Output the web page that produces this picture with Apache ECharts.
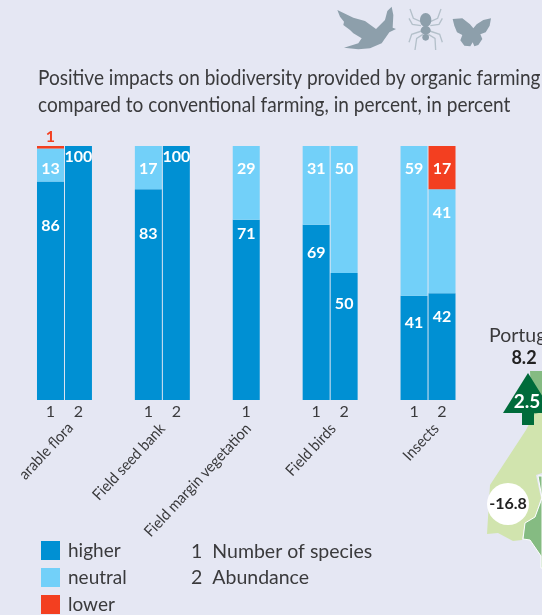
<!DOCTYPE html>
<html><head><meta charset="utf-8">
<style>html,body{margin:0;padding:0;background:#e5e7f3;overflow:hidden}#c{width:542px;height:615px}</style>
<script src="https://cdn.jsdelivr.net/npm/echarts@6/dist/echarts.min.js"></script>
</head><body><div id="c"></div>
<script>
const FONT = 'Lato,"Liberation Sans",sans-serif';
// data (one entry per bar)
const barTicks = ['1','2','1','2','1','1','2','1','2'];
const higher  = [86,100,83,100,71,69,50,41,42];
const neutral = [13,null,17,null,29,31,50,59,41];
const lower   = [1,null,null,null,null,null,null,null,17];
const groups  = ['arable flora','Field seed bank','Field margin vegetation','Field birds','Insects'];
const titleLines = ['Positive impacts on biodiversity provided by organic farming','compared to conventional farming, in percent, in percent'];
const notes = ['1  Number of species','2  Abundance'];
// layout only
const barSlots = [0,2,7,9,14,19,21,26,28];
const SLOTS = 29;
const higherLabelDist  = [36,3,37,3,6,20,23,19,16];
const neutralLabelDist = [12,0,15,0,15,15,15,15,16];
const groupAnchor = [[1,6,425],[8,0,426],[14,2,426],[20,3,426],[27,8,426]];

const ticks = Array.from({length:SLOTS},()=>'' );
barSlots.forEach((s,i)=>ticks[s]=barTicks[i]);
const col = (vals,extra)=>{const a=Array(SLOTS).fill(null);barSlots.forEach((s,i)=>{if(vals[i]!=null)a[s]=extra?extra(vals[i],i):vals[i];});return a;};
const lab = {show:true,color:'#fff',fontFamily:FONT,fontWeight:'bold',fontSize:16,position:'insideTop'};

const chart = echarts.init(document.getElementById('c'),null,{renderer:'canvas'});
const C = {hi:'#0090d3',ne:'#72d0f9',lo:'#f33f20',bg:'#e5e7f3',tx:'#3a3a3c'};
chart.setOption({
  backgroundColor:C.bg,animation:false,
  legend:{left:41,top:541,padding:0,orient:'vertical',itemWidth:19,itemHeight:19,itemGap:8,icon:'rect',selectedMode:false,
    textStyle:{fontFamily:FONT,fontSize:19,lineHeight:19,color:C.tx,padding:[0,0,0,3]},data:['higher','neutral','lower']},
  grid:{left:43.5,width:405.5,top:146,bottom:215,containLabel:false},
  xAxis:{type:'category',data:ticks,axisLine:{show:false},axisTick:{show:false},
    axisLabel:{interval:0,color:C.tx,fontFamily:FONT,fontSize:16,margin:4}},
  yAxis:{type:'value',min:0,max:100,show:false},
  series:[
    {name:'higher',type:'bar',stack:'s',clip:false,barWidth:27,itemStyle:{color:C.hi},
     data:col(higher,(v,i)=>({value:v,label:{distance:higherLabelDist[i]}})),label:lab},
    {name:'neutral',type:'bar',stack:'s',clip:false,barWidth:27,itemStyle:{color:C.ne},
     data:col(neutral,(v,i)=>({value:v,label:{distance:neutralLabelDist[i]}})),label:lab},
    {name:'lower',type:'bar',stack:'s',clip:false,barWidth:27,itemStyle:{color:C.lo},
     data:col(lower,(v,i)=>v<5?{value:v,label:{position:'top',color:C.lo,distance:1}}:{value:v,label:{distance:15}}),label:lab}
  ]
});

const groupLabels = groups.map((g,i)=>({type:'text',x:chart.convertToPixel({xAxisIndex:0},groupAnchor[i][0])+groupAnchor[i][1],y:groupAnchor[i][2],rotation:47*Math.PI/180,scaleX:0.93,
  style:{text:g,textAlign:'right',textVerticalAlign:'middle',font:'15.5px '+FONT,fill:C.tx}}));
const noteTexts = notes.map((t,i)=>({type:'text',x:191,y:552+i*26,style:{text:t,textVerticalAlign:'middle',font:'19.5px '+FONT,fill:C.tx}}));
const titleTexts = titleLines.map((t,i)=>({type:'text',x:38,y:78+i*27,scaleX:0.93,style:{text:t,textVerticalAlign:'middle',font:'20.5px '+FONT,fill:C.tx}}));
const G = {d:'#006b3a',m:'#85bb82',l:'#d1e4ae'};
const ic = '#8d9fab', leg='#b4c0ca';
const line=(pts)=>({type:'polyline',shape:{points:pts},style:{stroke:leg,lineWidth:4,fill:null}});
chart.setOption({graphic:[
  ...titleTexts,
  // icons
  {type:'group',x:330,y:5,scaleX:1/3,scaleY:1/3,children:[{type:'polygon',shape:{points:[[22,15],[70,38],[105,48],[138,72],[165,45],[172,18],[185,5],[190,30],[188,68],[198,72],[178,82],[155,115],[120,130],[85,133],[42,128],[85,115],[95,100],[70,85],[60,75],[40,60],[42,50],[30,35]]},style:{fill:ic}}]},
  {type:'group',x:405,y:5,scaleX:1/3,scaleY:1/3,children:[
    line([[48,50],[25,40],[15,12]]),line([[76,50],[98,40],[108,12]]),
    line([[48,62],[22,58],[12,40]]),line([[76,62],[102,58],[112,40]]),
    line([[50,78],[20,88],[12,112]]),line([[74,78],[104,88],[112,112]]),
    line([[54,88],[35,100],[30,135]]),line([[70,88],[90,100],[92,135]]),
    {type:'ellipse',shape:{cx:62,cy:45,rx:17,ry:21},style:{fill:ic}},
    {type:'ellipse',shape:{cx:62,cy:76,rx:15,ry:13},style:{fill:ic}},
    {type:'circle',shape:{cx:62,cy:97,r:10},style:{fill:ic}},
    {type:'polygon',shape:{points:[[143,42],[172,40],[195,58],[205,70],[215,58],[235,45],[258,40],[254,62],[242,82],[226,88],[232,102],[220,120],[208,124],[203,112],[196,124],[178,122],[166,106],[172,90],[156,82],[148,62]]},style:{fill:ic}}
  ]},
  // map fragment
  {type:'polygon',shape:{points:[[542,398],[526,430],[490,485],[487,534],[498,533],[513,541],[522,540],[525,523],[535,517],[541,498],[536,475],[542,473]]},style:{fill:G.l}},
  {type:'polygon',shape:{points:[[530,371],[542,371],[542,412],[532,415]]},style:{fill:G.m}},
  {type:'polygon',shape:{points:[[538,476],[542,476],[542,568],[541,568],[541,556],[530,540],[523,539],[525,523],[535,517],[542,498]]},style:{fill:G.m,stroke:'#fff',lineWidth:1}},
  {type:'polygon',shape:{points:[[528,373],[553,413],[534,413],[534,425],[522,425],[522,413],[503,413]]},style:{fill:G.d}},
  {type:'text',x:527,y:402,style:{text:'2.5',textAlign:'center',textVerticalAlign:'middle',font:'bold 19px '+FONT,fill:'#fff'}},
  {type:'text',x:489,y:336,style:{text:'Portugal',textVerticalAlign:'middle',font:'19.5px '+FONT,fill:C.tx}},
  {type:'text',x:524,y:358,style:{text:'8.2',textAlign:'center',textVerticalAlign:'middle',font:'bold 18px '+FONT,fill:'#222'}},
  {type:'circle',shape:{cx:508,cy:504,r:21},style:{fill:'#fff'}},
  {type:'text',x:508,y:504,style:{text:'-16.8',textAlign:'center',textVerticalAlign:'middle',font:'bold 16px '+FONT,fill:'#222'}},
  ...groupLabels,...noteTexts
]});
</script></body></html>
